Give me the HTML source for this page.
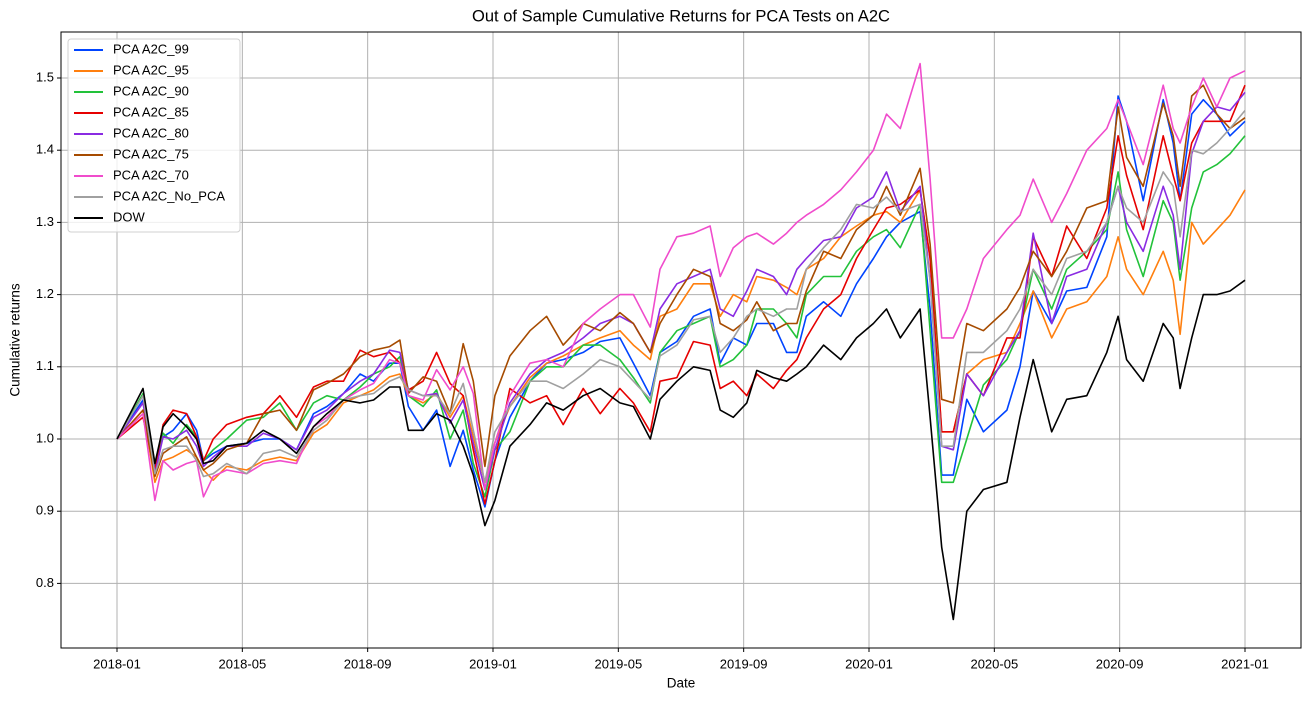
<!DOCTYPE html>
<html><head><meta charset="utf-8"><style>
body{margin:0;background:#fff;}
svg{display:block;font-family:"Liberation Sans","DejaVu Sans",sans-serif;}
</style></head><body>
<svg id="chart" width="1311" height="701" viewBox="0 0 1311 701" xmlns="http://www.w3.org/2000/svg">
<rect width="1311" height="701" fill="#fff"/>
<text x="681" y="17" font-size="16.5" text-anchor="middle" dominant-baseline="middle">Out of Sample Cumulative Returns for PCA Tests on A2C</text>
<g id="grid"></g>
<g id="series"></g>
<rect x="61" y="32" width="1240" height="616" fill="none" stroke="#000" stroke-width="1"/>
<g id="ticks"></g>
<text x="681" y="684" font-size="13.5" text-anchor="middle" dominant-baseline="middle">Date</text>
<text x="16" y="340" font-size="13.5" text-anchor="middle" dominant-baseline="middle" transform="rotate(-90 16 340)">Cumulative returns</text>
<g id="legend"></g>
</svg>
<script>
// months since 2018-01-01
const months = [0,0.83,1.21,1.47,1.79,2.22,2.54,2.76,3.07,3.5,4.14,4.67,5.2,5.73,6.27,6.7,7.23,7.76,8.19,8.7,9.03,9.3,9.77,10.2,10.63,11.05,11.37,11.74,
12.06,12.54,13.18,13.71,14.24,14.88,15.42,16.05,16.48,17.02,17.33,17.87,18.4,18.93,19.25,19.67,20.1,20.42,20.95,21.37,21.7,22.0,22.55,23.1,23.6,24.14,24.56,25.0,25.63,
25.95,26.32,26.69,27.12,27.65,28.4,28.82,29.24,29.83,30.31,30.95,31.59,31.95,32.22,32.75,33.39,33.71,33.93,34.3,34.67,35.1,35.52,36.0];
const seriesNames = ["PCA A2C_99","PCA A2C_95","PCA A2C_90","PCA A2C_85","PCA A2C_80","PCA A2C_75","PCA A2C_70","PCA A2C_No_PCA","DOW"];
const seriesColors = ["#0044ff","#ff7f0e","#22c23a","#e60000","#8a2be2","#a64b00","#f04ccc","#a0a0a0","#000000"];
const a2c99 = [1.0,1.054,0.962,1.003,1.012,1.035,1.012,0.97,0.98,0.99,0.994,1.0,1.0,0.985,1.035,1.045,1.063,1.09,1.08,1.105,1.105,1.045,1.012,1.04,0.962,1.012,0.957,0.906,
0.97,1.03,1.08,1.105,1.11,1.12,1.135,1.14,1.105,1.06,1.12,1.135,1.17,1.18,1.105,1.14,1.13,1.16,1.16,1.12,1.12,1.17,1.19,1.17,1.215,1.25,1.28,1.30,1.315,
1.18,0.95,0.95,1.055,1.01,1.04,1.10,1.205,1.16,1.205,1.21,1.28,1.475,1.44,1.33,1.47,1.41,1.33,1.45,1.47,1.45,1.42,1.44];
const a2c95 = [1.0,1.04,0.94,0.97,0.975,0.985,0.975,0.957,0.943,0.962,0.957,0.97,0.975,0.97,1.008,1.02,1.05,1.06,1.068,1.086,1.09,1.06,1.05,1.063,1.03,1.06,1.003,0.94,
0.995,1.045,1.085,1.105,1.115,1.13,1.14,1.15,1.13,1.11,1.17,1.18,1.215,1.215,1.17,1.20,1.19,1.225,1.22,1.21,1.20,1.235,1.25,1.28,1.295,1.31,1.315,1.30,1.345,
1.25,1.01,1.01,1.09,1.11,1.12,1.16,1.205,1.14,1.18,1.19,1.225,1.28,1.235,1.20,1.26,1.22,1.145,1.30,1.27,1.29,1.31,1.345];
const a2c90 = [1.0,1.063,0.966,1.008,0.994,1.02,1.003,0.97,0.985,1.0,1.026,1.03,1.05,1.012,1.05,1.06,1.054,1.072,1.09,1.1,1.114,1.06,1.045,1.068,1.0,1.04,0.966,0.92,
0.985,1.01,1.08,1.10,1.10,1.13,1.13,1.11,1.085,1.05,1.12,1.15,1.16,1.17,1.10,1.11,1.13,1.18,1.18,1.16,1.14,1.20,1.225,1.225,1.26,1.28,1.29,1.265,1.325,
1.15,0.94,0.94,1.0,1.075,1.11,1.15,1.235,1.18,1.235,1.26,1.29,1.37,1.29,1.225,1.33,1.30,1.22,1.32,1.37,1.38,1.395,1.42];
const a2c85 = [1.0,1.03,0.957,1.02,1.04,1.035,1.003,0.97,1.0,1.02,1.03,1.035,1.06,1.03,1.072,1.08,1.08,1.123,1.114,1.12,1.105,1.068,1.08,1.12,1.077,1.06,0.985,0.91,
0.97,1.07,1.05,1.06,1.02,1.07,1.035,1.07,1.05,1.01,1.08,1.085,1.135,1.13,1.07,1.08,1.06,1.09,1.07,1.095,1.11,1.14,1.18,1.20,1.25,1.29,1.32,1.325,1.345,
1.25,1.01,1.01,1.09,1.06,1.14,1.14,1.28,1.225,1.295,1.25,1.32,1.42,1.365,1.29,1.42,1.365,1.33,1.41,1.44,1.44,1.44,1.49];
const a2c80 = [1.0,1.05,0.952,1.003,1.0,1.012,0.99,0.962,0.975,0.99,0.99,1.008,1.0,0.985,1.03,1.04,1.063,1.08,1.09,1.123,1.12,1.068,1.06,1.063,1.022,1.054,0.994,0.93,
0.985,1.05,1.09,1.11,1.12,1.14,1.16,1.17,1.16,1.12,1.18,1.215,1.225,1.235,1.18,1.17,1.205,1.235,1.225,1.20,1.235,1.25,1.275,1.28,1.32,1.335,1.37,1.315,1.35,
1.22,0.99,0.985,1.09,1.06,1.12,1.15,1.285,1.16,1.225,1.235,1.30,1.35,1.30,1.26,1.35,1.31,1.235,1.395,1.44,1.46,1.455,1.48];
const a2c75 = [1.0,1.04,0.948,0.98,0.99,1.003,0.975,0.957,0.966,0.985,0.994,1.035,1.04,1.012,1.068,1.077,1.09,1.114,1.123,1.128,1.137,1.063,1.086,1.08,1.035,1.132,1.08,0.962,
1.06,1.115,1.15,1.17,1.13,1.16,1.15,1.175,1.16,1.12,1.16,1.20,1.235,1.225,1.16,1.15,1.165,1.19,1.15,1.16,1.16,1.205,1.26,1.25,1.29,1.31,1.35,1.31,1.375,
1.27,1.055,1.05,1.16,1.15,1.18,1.21,1.26,1.225,1.26,1.32,1.33,1.46,1.39,1.35,1.465,1.42,1.35,1.475,1.49,1.45,1.43,1.445];
const a2c70 = [1.0,1.035,0.915,0.97,0.957,0.966,0.97,0.92,0.948,0.957,0.952,0.966,0.97,0.966,1.017,1.03,1.054,1.068,1.077,1.11,1.105,1.06,1.054,1.096,1.068,1.1,1.063,0.93,
0.995,1.06,1.105,1.11,1.10,1.16,1.18,1.20,1.20,1.155,1.235,1.28,1.285,1.295,1.225,1.265,1.28,1.285,1.27,1.285,1.30,1.31,1.325,1.345,1.37,1.40,1.45,1.43,1.52,
1.36,1.14,1.14,1.18,1.25,1.29,1.31,1.36,1.30,1.34,1.40,1.43,1.47,1.44,1.38,1.49,1.43,1.41,1.46,1.50,1.46,1.50,1.51];
const a2cNoPca = [1.0,1.06,0.952,0.985,0.99,0.99,0.97,0.948,0.952,0.966,0.952,0.98,0.985,0.975,1.012,1.026,1.054,1.06,1.063,1.08,1.086,1.068,1.06,1.06,1.035,1.077,1.012,0.94,
1.01,1.045,1.08,1.08,1.07,1.09,1.11,1.10,1.08,1.055,1.115,1.13,1.165,1.17,1.12,1.14,1.17,1.18,1.17,1.18,1.18,1.235,1.265,1.29,1.325,1.32,1.335,1.315,1.325,
1.22,0.99,0.99,1.12,1.12,1.15,1.18,1.235,1.20,1.25,1.26,1.30,1.35,1.32,1.30,1.37,1.35,1.28,1.40,1.395,1.41,1.43,1.455];
const dow = [1.0,1.07,0.966,1.017,1.035,1.017,1.0,0.966,0.97,0.99,0.994,1.012,1.0,0.98,1.017,1.035,1.054,1.05,1.054,1.072,1.072,1.012,1.012,1.035,1.026,0.99,0.95,0.88,
0.915,0.99,1.02,1.05,1.04,1.06,1.07,1.05,1.045,1.0,1.055,1.08,1.10,1.095,1.04,1.03,1.05,1.095,1.085,1.08,1.09,1.10,1.13,1.11,1.14,1.16,1.18,1.14,1.18,
1.03,0.85,0.75,0.90,0.93,0.94,1.03,1.11,1.01,1.055,1.06,1.12,1.17,1.11,1.08,1.16,1.14,1.07,1.14,1.20,1.20,1.205,1.22];
const xTickLabels = ["2018-01","2018-05","2018-09","2019-01","2019-05","2019-09","2020-01","2020-05","2020-09","2021-01"];
const xTickMonths = [0,4,8,12,16,20,24,28,32,36];
const yTickValues = [0.8,0.9,1.0,1.1,1.2,1.3,1.4,1.5];

const NS="http://www.w3.org/2000/svg";
const L=61,R=1301,T=32,B=648;
const xs = m => 117 + m*(1128/36);
const ys = v => 78 + (1.5-v)*722;
function mk(tag, attrs, parent){const e=document.createElementNS(NS,tag);for(const k in attrs)e.setAttribute(k,attrs[k]);parent.appendChild(e);return e;}
const grid=document.getElementById('grid'), ticks=document.getElementById('ticks'), sg=document.getElementById('series'), lg=document.getElementById('legend');
xTickMonths.forEach((m,i)=>{
  const x=xs(m);
  const gl=mk('line',{x1:x,x2:x,y1:T,y2:B,stroke:'#b0b0b0','stroke-width':1},grid);
  
  
  const tk=mk('line',{x1:x,x2:x,y1:B,y2:B+4,stroke:'#000'},ticks);
  
  
  const t=mk('text',{x:x,y:B+17,'font-size':13,'text-anchor':'middle','dominant-baseline':'middle'},ticks);
  t.textContent=xTickLabels[i];
  
  
});
yTickValues.forEach(v=>{
  const y=ys(v);
  const gl=mk('line',{x1:L,x2:R,y1:y,y2:y,stroke:'#b0b0b0','stroke-width':1},grid);
  
  
  const tk=mk('line',{x1:L-4,x2:L,y1:y,y2:y,stroke:'#000'},ticks);
  
  
  const t=mk('text',{x:L-7,y:y,'font-size':13,'text-anchor':'end','dominant-baseline':'middle'},ticks);
  t.textContent=v.toFixed(1);
  
  
});
const allSeries=[a2c99,a2c95,a2c90,a2c85,a2c80,a2c75,a2c70,a2cNoPca,dow];
allSeries.forEach((vals,i)=>{
  const d=vals.map((v,j)=>(j?'L':'M')+xs(months[j]).toFixed(1)+' '+ys(v).toFixed(1)).join(' ');
  const p=mk('path',{d:d,fill:'none',stroke:seriesColors[i],'stroke-width':1.6,'stroke-linejoin':'round'},sg);
  
  
});
const box=mk('rect',{x:68,y:39,width:172,height:193,rx:3,fill:'#fff','fill-opacity':0.8,stroke:'#d0d0d0'},lg);


seriesNames.forEach((n,i)=>{
  const y=50+i*21;
  const g=mk('g',{},lg);
  
  
  mk('line',{x1:74,x2:103,y1:y,y2:y,stroke:seriesColors[i],'stroke-width':2},g);
  const t=mk('text',{x:113,y:y,'font-size':13,'dominant-baseline':'middle'},g);
  t.textContent=n;
});
</script>
</body></html>
